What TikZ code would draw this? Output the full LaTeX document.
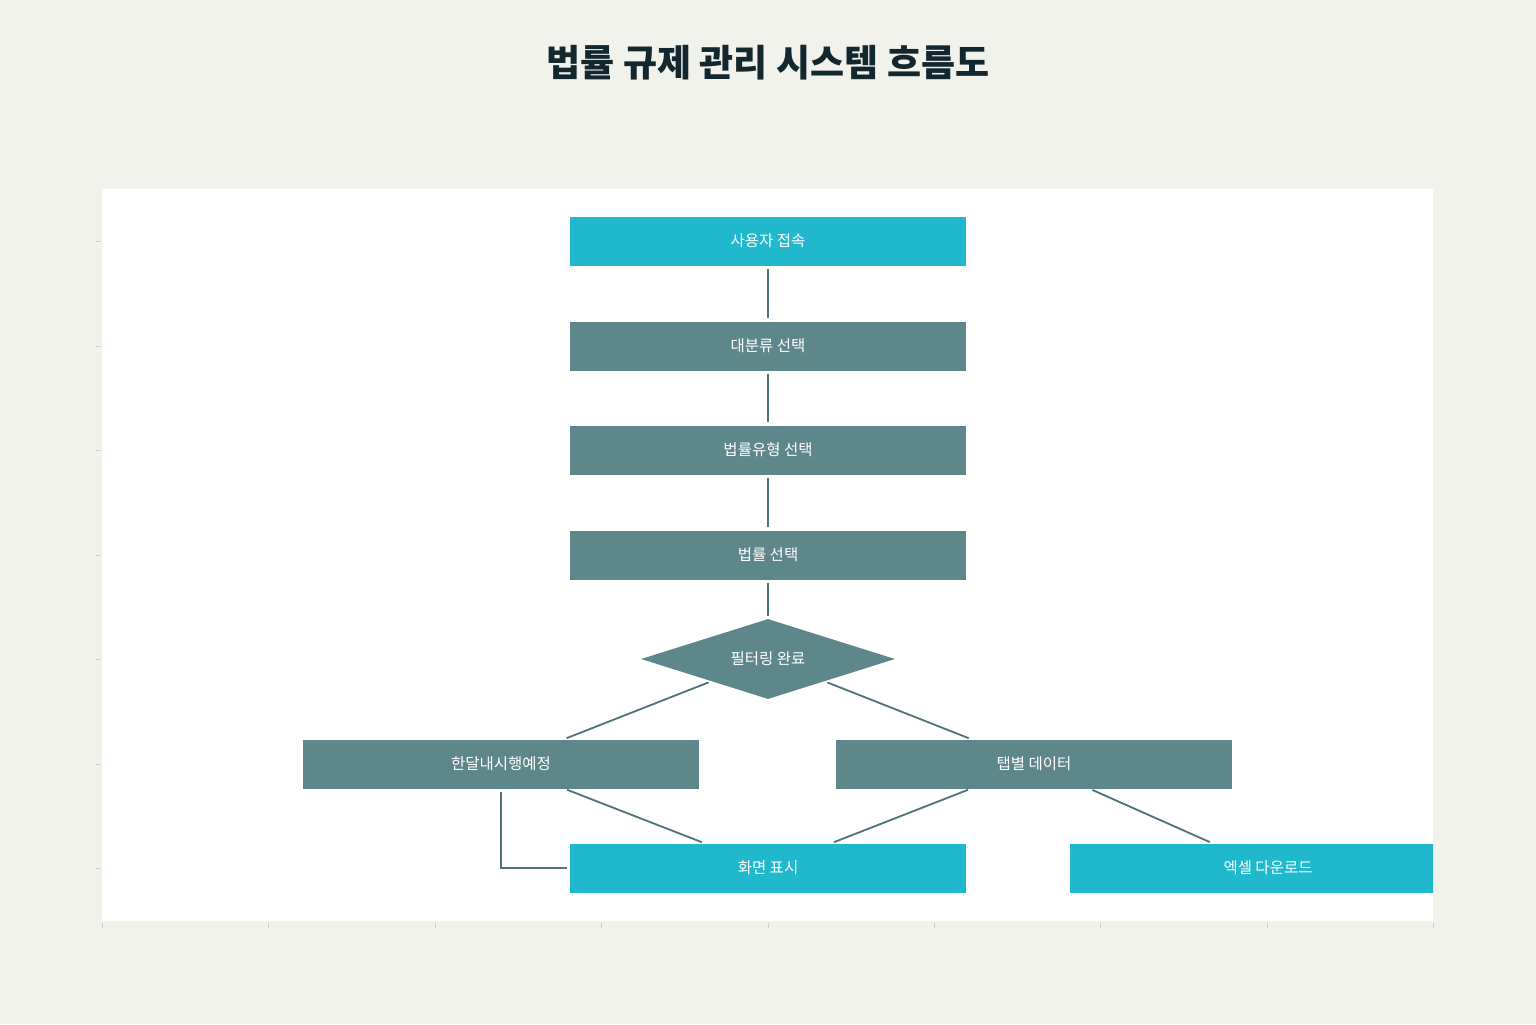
\documentclass[tikz,border=0pt]{standalone}
\usepackage{fontspec}
\setmainfont{Noto Sans CJK KR}
\usetikzlibrary{shapes.geometric}
\definecolor{bgc}{HTML}{F2F2ED}
\definecolor{cyanbox}{HTML}{1FB8CD}
\definecolor{slatebox}{HTML}{5D878B}
\definecolor{linec}{HTML}{4E7379}
\definecolor{titlec}{HTML}{13272F}
\definecolor{tickc}{HTML}{CFCFCF}
\tikzset{
  basebox/.style={rectangle, minimum width=396bp, minimum height=49bp, inner sep=0pt,
    text=white, font=\fontsize{15.5bp}{18bp}\selectfont},
  cyanstep/.style={basebox, fill=cyanbox},
  slatestep/.style={basebox, fill=slatebox},
  decide/.style={diamond, shape aspect=3.175, fill=slatebox, minimum width=254bp, minimum height=80bp, inner sep=0pt,
    text=white, font=\fontsize{15.5bp}{18bp}\selectfont},
  conn/.style={draw=linec, line width=1.8bp, shorten >=3bp, shorten <=3bp},
  tick/.style={draw=tickc, line width=0.8bp}
}
\begin{document}
\begin{tikzpicture}[x=1bp,y=-1bp]
\useasboundingbox[fill=bgc] (0,0) rectangle (1536,1024);
\fill[white] (102,189) rectangle (1433,921);
% ticks
\foreach \yy in {241,346,450,555,659,764,868} \draw[tick] (96,\yy) -- (101,\yy);
\foreach \xx in {102,268,435,601,768,934,1100,1267,1433} \draw[tick] (\xx,923) -- (\xx,928);
\node[font=\fontsize{37bp}{42bp}\selectfont\bfseries, text=titlec] (title) at (768,63) {법률 규제 관리 시스템 흐름도};
\node[cyanstep] (n1) at (768,241) {사용자 접속};
\node[slatestep] (n2) at (768,346) {대분류 선택};
\node[slatestep] (n3) at (768,450) {법률유형 선택};
\node[slatestep] (n4) at (768,555) {법률 선택};
\node[decide] (d) at (768,659) {필터링 완료};
\node[slatestep] (left) at (501,764) {한달내시행예정};
\node[slatestep] (right) at (1034,764) {탭별 데이터};
\node[cyanstep] (screen) at (768,868) {화면 표시};
\begin{scope}
\clip (102,189) rectangle (1433,921);
\node[cyanstep] (excel) at (1268,868) {엑셀 다운로드};
\end{scope}
\draw[conn] (n1) -- (n2);
\draw[conn] (n2) -- (n3);
\draw[conn] (n3) -- (n4);
\draw[conn] (n4) -- (d);
\draw[conn] (d) -- (left);
\draw[conn] (d) -- (right);
\draw[conn] (left) -- (screen);
\draw[conn] (right) -- (screen);
\draw[conn] (right) -- (excel);
\draw[conn] (left.south) |- (screen.west);
\end{tikzpicture}
\end{document}
